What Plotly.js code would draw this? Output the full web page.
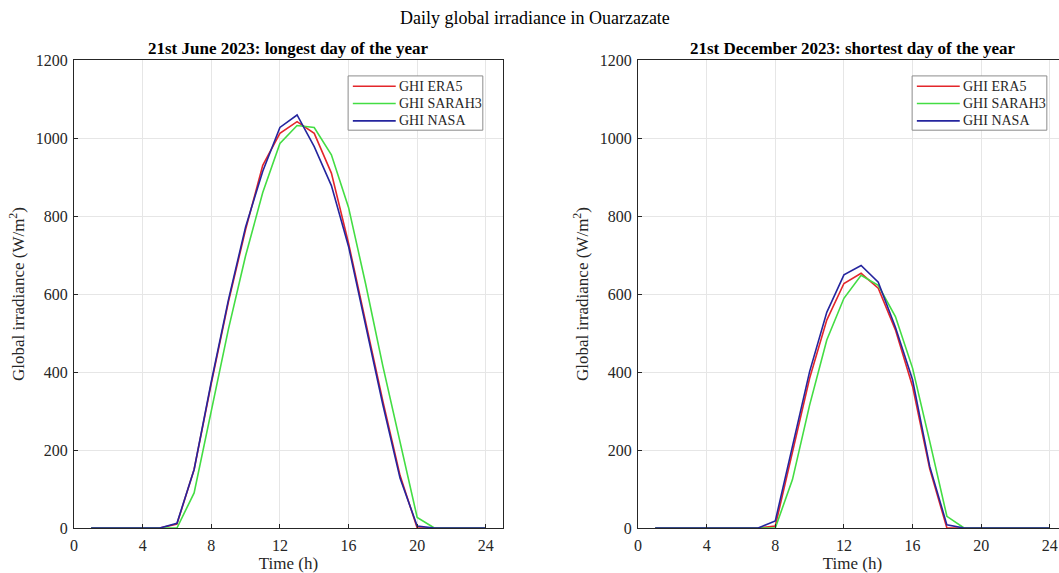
<!DOCTYPE html>
<html>
<head>
<meta charset="utf-8">
<script src="https://cdn.plot.ly/plotly-3.0.1.min.js"></script>
<style>
html,body{margin:0;padding:0;overflow:hidden;background:#fff;}
#chart{width:1067px;height:573px;}
</style>
</head>
<body>
<div id="chart"></div>
<script>
const hours = [1,2,3,4,5,6,7,8,9,10,11,12,13,14,15,16,17,18,19,20,21,22,23,24];

const juneERA5   = [0,0,0,0,0,10,150,370,580,765,930,1012,1042,1012,910,730,530,325,135,0,0,0,0,0];
const juneSARAH3 = [0,0,0,0,0,0,90,300,510,698,860,986,1032,1027,957,822,625,415,218,27,0,0,0,0];
const juneNASA   = [0,0,0,0,0,12,150,375,585,772,915,1027,1059,978,878,722,517,316,128,5,0,0,0,0];

const decERA5   = [0,0,0,0,0,0,0,5,196,384,533,627,653,615,508,363,152,0,0,0,0,0,0,0];
const decSARAH3 = [0,0,0,0,0,0,0,0,124,315,482,589,648,622,542,410,222,30,0,0,0,0,0,0];
const decNASA   = [0,0,0,0,0,0,0,18,209,401,553,649,673,630,515,380,158,8,0,0,0,0,0,0];

const seriesNames = ['GHI ERA5','GHI SARAH3','GHI NASA'];
const colors = ['#e3262b','#43dd43','#25259e'];
const xTicks = [0,4,8,12,16,20,24];
const yTicks = [0,200,400,600,800,1000,1200];

const mainTitle = 'Daily global irradiance in Ouarzazate';
const leftTitle = '21st June 2023: longest day of the year';
const rightTitle = '21st December 2023: shortest day of the year';

const font = 'Liberation Serif, Times New Roman, serif';
const axisColor = '#262626';

function mk(x, y, i, xa, ya){
  return {x:x, y:y, type:'scatter', mode:'lines', name:seriesNames[i],
    line:{color:colors[i], width:1.6}, xaxis:xa, yaxis:ya, showlegend:false};
}
const traces = [
  mk(hours, juneERA5, 0, 'x', 'y'),
  mk(hours, juneSARAH3, 1, 'x', 'y'),
  mk(hours, juneNASA, 2, 'x', 'y'),
  mk(hours, decERA5, 0, 'x2', 'y2'),
  mk(hours, decSARAH3, 1, 'x2', 'y2'),
  mk(hours, decNASA, 2, 'x2', 'y2')
];

function xax(domain, anchor){
  return {domain:domain, anchor:anchor, range:[0,25], tickvals:xTicks, ticktext:xTicks.map(String),
    showgrid:true, gridcolor:'#e6e6e6', gridwidth:1, zeroline:false,
    showline:true, linecolor:axisColor, linewidth:1, mirror:true,
    ticks:'inside', ticklen:4, tickcolor:axisColor, ticklabelstandoff:3,
    tickfont:{family:font, size:16, color:axisColor},
    title:{text:'Time (h)', font:{family:font, size:17, color:axisColor}, standoff:0}};
}
function yax(anchor){
  return {anchor:anchor, domain:[0,1], range:[0,1200], tickvals:yTicks, ticktext:yTicks.map(String),
    showgrid:true, gridcolor:'#e6e6e6', gridwidth:1, zeroline:false,
    showline:true, linecolor:axisColor, linewidth:1, mirror:true,
    ticks:'inside', ticklen:4, tickcolor:axisColor, ticklabelstandoff:2,
    tickfont:{family:font, size:16, color:axisColor},
    title:{text:'Global irradiance (W/m<sup>2</sup>)', font:{family:font, size:17, color:axisColor}, standoff:6}};
}

// custom legend (compact, MATLAB-like)
const shapes = [];
const annotations = [
  {text:mainTitle, xref:'paper', yref:'paper', x:0.464, y:1.0897, xanchor:'center', yanchor:'middle',
   showarrow:false, font:{family:font, size:18, color:'#000'}},
  {text:'<b>'+leftTitle+'</b>', xref:'x domain', yref:'y domain', x:0.5, y:1.0256, xanchor:'center', yanchor:'middle',
   showarrow:false, font:{family:font, size:17, color:'#000'}},
  {text:'<b>'+rightTitle+'</b>', xref:'x2 domain', yref:'y2 domain', x:0.5, y:1.0256, xanchor:'center', yanchor:'middle',
   showarrow:false, font:{family:font, size:17, color:'#000'}}
];
const legRows = [0.944, 0.907, 0.870];
[['x domain','y domain'],['x2 domain','y2 domain']].forEach(function(r){
  shapes.push({type:'rect', xref:r[0], yref:r[1], x0:0.639, x1:0.953, y0:0.850, y1:0.966,
    line:{color:'#8c8c8c', width:1}, fillcolor:'#ffffff', layer:'above'});
  seriesNames.forEach(function(n, i){
    shapes.push({type:'line', xref:r[0], yref:r[1], x0:0.650, x1:0.750, y0:legRows[i], y1:legRows[i],
      line:{color:colors[i], width:1.6}, layer:'above'});
    annotations.push({text:n, xref:r[0], yref:r[1], x:0.752, y:legRows[i], xanchor:'left', yanchor:'middle',
      showarrow:false, font:{family:font, size:14, color:'#262626'}});
  });
});

const layout = {
  width:1067, height:573,
  margin:{l:74, r:0, t:60, b:45},
  paper_bgcolor:'#ffffff', plot_bgcolor:'#ffffff',
  font:{family:font, color:axisColor},
  showlegend:false,
  xaxis: xax([0, 0.432], 'y'),
  yaxis: yax('x'),
  xaxis2: xax([0.568, 1], 'y2'),
  yaxis2: yax('x2'),
  shapes: shapes,
  annotations: annotations
};

Plotly.newPlot('chart', traces, layout, {displayModeBar:false, staticPlot:true});
</script>
</body>
</html>
